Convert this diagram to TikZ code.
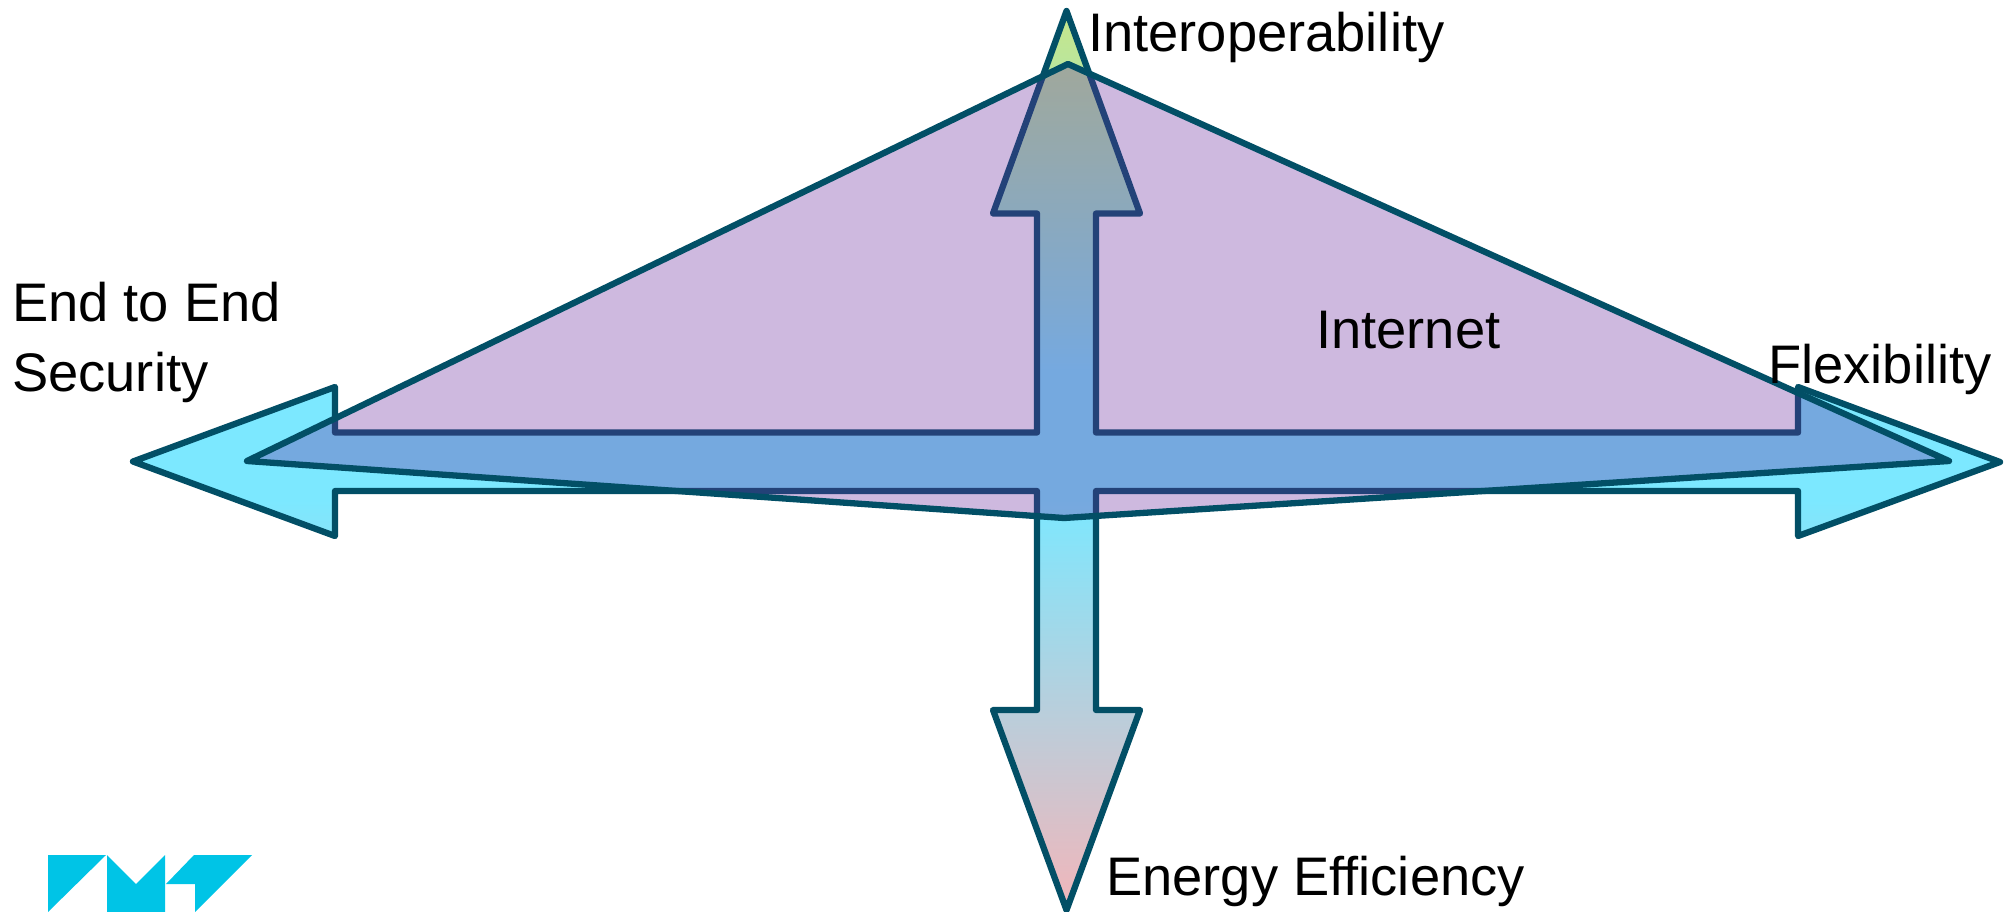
\documentclass[tikz,border=0pt]{standalone}
\usepackage{fontspec}
\setmainfont{Liberation Sans}
\definecolor{edgeC}{HTML}{024F66}
\definecolor{kiteC}{HTML}{69279E}
\definecolor{cyanC}{HTML}{7CE8FF}
\definecolor{greenC}{HTML}{C6E68A}
\definecolor{pinkC}{HTML}{F2B6BA}
\definecolor{logoC}{HTML}{00C4E6}
\pgfdeclareverticalshading{crossgrad}{100bp}{
 color(0bp)=(pinkC);color(25bp)=(pinkC);color(47.8bp)=(cyanC);color(55bp)=(cyanC);color(75bp)=(greenC);color(100bp)=(greenC)}
\begin{document}
\begin{tikzpicture}[x=1pt,y=-1pt,
  lab/.style={font=\fontsize{54.3}{65}\selectfont,text=black,inner sep=0pt,anchor=base west},
  outl/.style={draw=edgeC,line width=6.3pt,line join=round}]
\useasboundingbox (0,0) rectangle (2009,912);
\fill[white] (0,0) rectangle (2009,912);
% cross of four arrows
\shade[shading=crossgrad,outl]
 (1066.5,11)--(1140,213.5)--(1096,213.5)--(1096,432.5)--(1798,432.5)--(1798,387)--(2000,462)--(1798,536)--(1798,491)--(1096,491)--(1096,710)--(1140,710)--(1066.5,910)--(993,710)--(1037,710)--(1037,491)--(335,491)--(335,536)--(133,461.5)--(335,387)--(335,432.5)--(1037,432.5)--(1037,213.5)--(993,213.5)--cycle;
% translucent kite
\path[fill=kiteC,fill opacity=.32,outl]
 (1068,64)--(1949,461)--(1064,518)--(247,461)--cycle;
% logo
\fill[logoC] (48,855)--(106,855)--(48,912)--cycle;
\fill[logoC] (107,855)--(136,884)--(165,855)--(165,912)--(107,912)--cycle;
\fill[logoC] (194,855)--(252,855)--(195,912)--(195,884)--(166,884)--cycle;
% labels
\node[lab] (interop) at (1088,52) {Interoperability};
\node[lab] (internet) at (1316,348) {Internet};
\node[lab] (flex) at (1768,383) {Flexibility};
\node[lab] (e2e) at (12,321) {End to End};
\node[lab] (sec) at (12,391) {Security};
\node[lab] (energy) at (1106,895) {Energy Efficiency};
\end{tikzpicture}
\end{document}
